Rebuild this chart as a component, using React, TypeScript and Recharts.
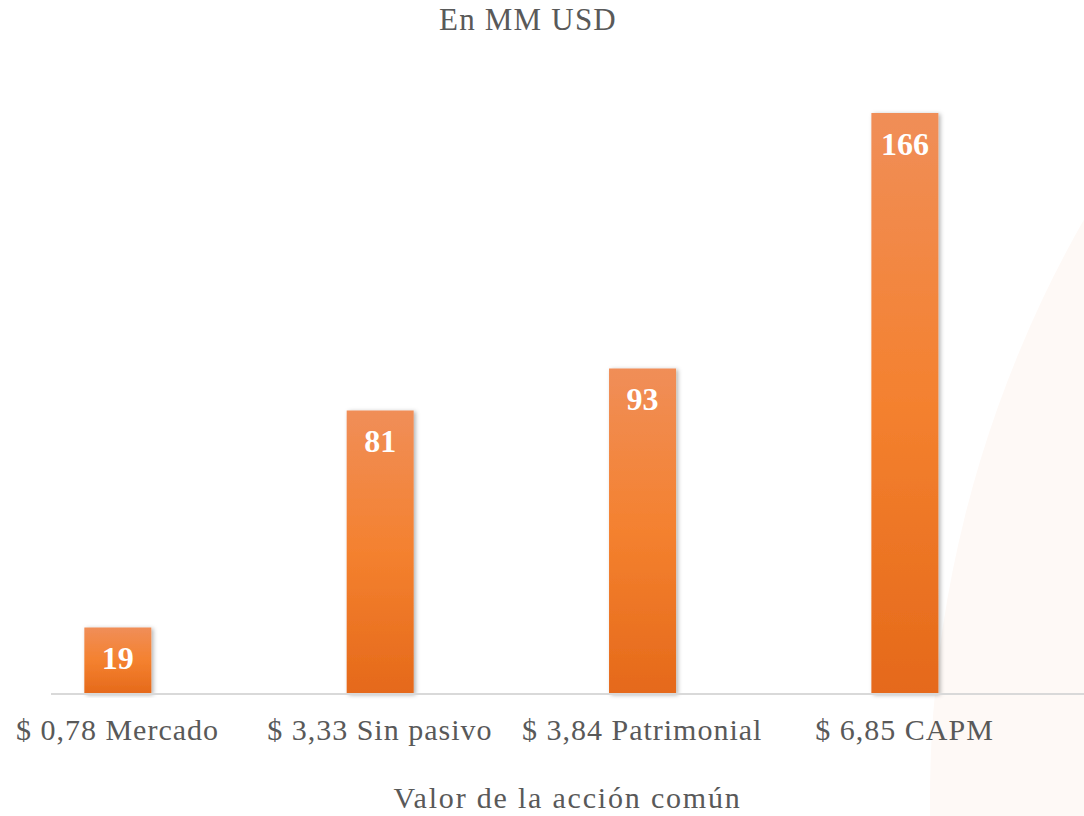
import { Bar, BarChart, LabelList, XAxis, YAxis } from 'recharts';

// Valor de la acción común, en MM USD
const categories = ['$ 0,78 Mercado', '$ 3,33 Sin pasivo', '$ 3,84 Patrimonial', '$ 6,85 CAPM'];
const values = [19, 81, 93, 166];
const tickPositions = [0, 1, 2, 3];

const data = categories.map((name, i) => ({ pos: tickPositions[i], name, value: values[i] }));

const FONT = "'Liberation Serif', 'DejaVu Serif', serif";
const GREY = '#595959';

export default function App() {
  return (
    <div
      style={{
        position: 'absolute',
        left: 0,
        top: 0,
        width: 1084,
        height: 816,
        overflow: 'hidden',
        background: '#ffffff',
        fontFamily: FONT,
      }}
    >
      {/* faint decorative arc on the right */}
      <div
        style={{
          position: 'absolute',
          left: 930,
          top: 800 - 1171,
          width: 2342,
          height: 2342,
          borderRadius: '50%',
          background: '#fef9f6',
        }}
      />
      <div
        style={{
          position: 'absolute',
          left: 0,
          width: 1056,
          top: 2,
          textAlign: 'center',
          fontSize: 31,
          letterSpacing: 1.2,
          color: GREY,
        }}
      >
        En MM USD
      </div>
      <div style={{ position: 'absolute', left: 0, top: 0 }}>
        <BarChart
          width={1084}
          height={816}
          data={data}
          margin={{ top: 113, right: 0, bottom: 0, left: 51 }}
        >
          <defs>
            <linearGradient id='barGrad' x1='0' y1='0' x2='0' y2='1'>
              <stop offset='0%' stopColor='#f08e58' />
              <stop offset='50%' stopColor='#f4812f' />
              <stop offset='100%' stopColor='#e5691a' />
            </linearGradient>
            <filter id='barShadow' x='-20%' y='-5%' width='140%' height='110%'>
              <feDropShadow dx='2' dy='1' stdDeviation='2' floodColor='#000' floodOpacity='0.3' />
            </filter>
          </defs>
          <XAxis
            dataKey='pos'
            type='number'
            domain={[-0.2535, 3.684]}
            allowDataOverflow
            ticks={tickPositions}
            tickFormatter={(v) => categories[v] ?? ''}
            interval={0}
            height={122}
            axisLine={{ stroke: '#d9d9d9', strokeWidth: 2 }}
            tickLine={false}
            tickMargin={19}
            tick={{ fill: GREY, fontSize: 30, fontFamily: FONT, letterSpacing: 1 }}
            label={{
              value: 'Valor de la acción común',
              position: 'insideBottom',
              offset: 8,
              fill: GREY,
              fontSize: 30,
              fontFamily: FONT,
              letterSpacing: 1.8,
            }}
          />
          <YAxis hide domain={[0, 166]} />
          <Bar
            dataKey='value'
            barSize={67}
            fill='url(#barGrad)'
            filter='url(#barShadow)'
            isAnimationActive={false}
          >
            <LabelList
              dataKey='value'
              position='insideTop'
              offset={19}
              fill='#ffffff'
              fontSize={32}
              fontWeight='bold'
              fontFamily={FONT}
            />
          </Bar>
        </BarChart>
      </div>
    </div>
  );
}
